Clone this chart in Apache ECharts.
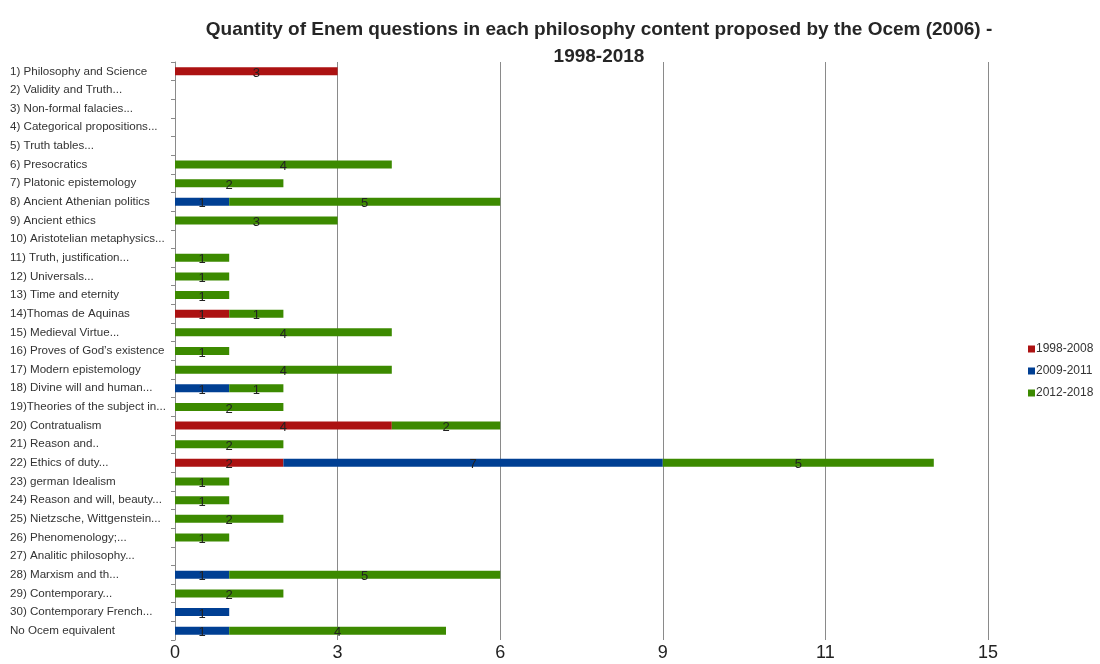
<!DOCTYPE html>
<html>
<head>
<meta charset="utf-8">
<script src="https://cdn.jsdelivr.net/npm/echarts@6/dist/echarts.min.js"></script>
<style>
  html, body { margin: 0; padding: 0; background: #fff; }
  #chart { width: 1100px; height: 664px; }
</style>
</head>
<body>
<div id="chart"></div>
<script>
// categories (top to bottom)
var topics = [
    '1) Philosophy and Science', '2) Validity and Truth...', '3) Non-formal falacies...',
    '4) Categorical propositions...', '5) Truth tables...', '6) Presocratics',
    '7) Platonic epistemology', '8) Ancient Athenian politics', '9) Ancient ethics',
    '10) Aristotelian metaphysics...', '11) Truth, justification...', '12) Universals...',
    '13) Time and eternity', '14)Thomas de Aquinas', '15) Medieval Virtue...',
    '16) Proves of God\u2019s existence', '17) Modern epistemology', '18) Divine will and human...',
    '19)Theories of the subject in...', '20) Contratualism', '21) Reason and..',
    '22) Ethics of duty...', '23) german Idealism', '24) Reason and will, beauty...',
    '25) Nietzsche, Wittgenstein...', '26) Phenomenology;...', '27) Analitic philosophy...',
    '28) Marxism and th...', '29) Contemporary...', '30) Contemporary French...',
    'No Ocem equivalent'
];
// null = no questions in that period
var p1998_2008 = [3, null, null, null, null, null, null, null, null, null, null, null, null, 1, null,
    null, null, null, null, 4, null, 2, null, null, null, null, null, null, null, null, null];
var p2009_2011 = [null, null, null, null, null, null, null, 1, null, null, null, null, null, null, null,
    null, null, 1, null, null, null, 7, null, null, null, null, null, 1, null, 1, 1];
var p2012_2018 = [null, null, null, null, null, 4, 2, 5, 3, null, 1, 1, 1, 1, 4,
    1, 4, 1, 2, 2, 2, 5, 1, 1, 2, 1, null, 5, 2, null, 4];

// tick labels as printed in the source (the 12 gridline is labelled 11 there)
var xTicks = {0: '0', 3: '3', 6: '6', 9: '9', 12: '11', 15: '15'};

var font = '"Liberation Sans Narrow", "Liberation Sans", Arial, sans-serif';

var chart = echarts.init(document.getElementById('chart'));

function bar(name, data, color) {
    return {
        name: name,
        type: 'bar',
        stack: 'total',
        barWidth: 8,
        itemStyle: {color: color},
        label: {
            show: true,
            position: 'inside',
            color: '#222',
            fontSize: 13,
            fontFamily: font,
            offset: [0, 2]
        },
        data: data
    };
}

var option = {
    animation: false,
    title: {
        text: 'Quantity of Enem questions in each philosophy content proposed by the Ocem (2006) -\n1998-2018',
        left: 594,
        textAlign: 'center',
        top: 11,
        textStyle: {
            fontFamily: font,
            fontSize: 19,
            fontWeight: 'bold',
            color: '#262626',
            lineHeight: 27
        }
    },
    legend: {
        orient: 'vertical',
        left: 1023,
        top: 338,
        itemWidth: 7,
        itemHeight: 7,
        itemGap: 10,
        icon: 'rect',
        textStyle: {fontFamily: 'Liberation Sans, Arial, sans-serif', fontSize: 12, color: '#333', padding: [0, 0, 0, -4]},
        data: ['1998-2008', '2009-2011', '2012-2018']
    },
    grid: {left: 175, right: 112, top: 62, bottom: 24, containLabel: false},
    xAxis: {
        type: 'value',
        min: 0,
        max: 15,
        interval: 3,
        axisLine: {show: false},
        axisTick: {show: false},
        splitLine: {lineStyle: {color: '#8a8a8a', width: 1}},
        axisLabel: {
            fontFamily: font,
            fontSize: 18,
            color: '#222',
            margin: 4,
            formatter: function (v) { return xTicks[v]; }
        }
    },
    yAxis: {
        type: 'category',
        inverse: true,
        data: topics,
        axisLine: {show: true, lineStyle: {color: '#8a8a8a'}},
        axisTick: {show: true, length: 4, lineStyle: {color: '#8a8a8a'}},
        axisLabel: {
            align: 'left',
            margin: 165,
            fontFamily: font,
            fontSize: 11.6,
            color: '#333'
        }
    },
    series: [
        bar('1998-2008', p1998_2008, '#ac1212'),
        bar('2009-2011', p2009_2011, '#003f93'),
        bar('2012-2018', p2012_2018, '#3c8a00')
    ]
};

chart.setOption(option);
</script>
</body>
</html>
